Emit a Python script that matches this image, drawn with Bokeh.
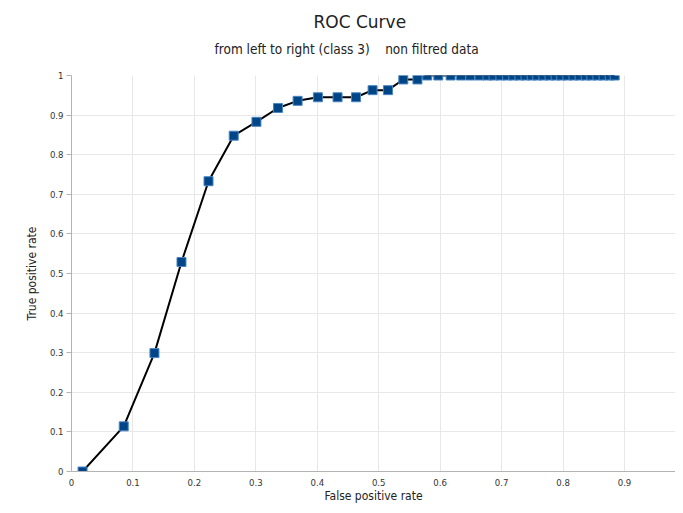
from bokeh.plotting import figure
from bokeh.models import Title, Range1d, FixedTicker
from bokeh.embed import file_html
from bokeh.resources import INLINE

title_text = "ROC Curve"
subtitle_text = "from left to right (class 3)\u00a0\u00a0\u00a0 non filtred data"
x_label = "False positive rate"
y_label = "True positive rate"

fpr = [0.018, 0.085, 0.135, 0.179, 0.223, 0.264, 0.301, 0.336, 0.368, 0.401,
       0.433, 0.463, 0.490, 0.515, 0.540, 0.563, 0.579, 0.597, 0.617, 0.634,
       0.649, 0.664, 0.677, 0.687, 0.698, 0.709, 0.719, 0.729, 0.739, 0.749,
       0.758, 0.768, 0.778, 0.788, 0.797, 0.807, 0.817, 0.827, 0.837, 0.846,
       0.856, 0.866, 0.876, 0.884]
tpr = [0.0, 0.114, 0.299, 0.529, 0.733, 0.848, 0.883, 0.918, 0.936, 0.945,
       0.945, 0.945, 0.963, 0.963, 0.990, 0.990, 1.0, 1.0, 1.0, 1.0,
       1.0, 1.0, 1.0, 1.0, 1.0, 1.0, 1.0, 1.0, 1.0, 1.0,
       1.0, 1.0, 1.0, 1.0, 1.0, 1.0, 1.0, 1.0, 1.0, 1.0,
       1.0, 1.0, 1.0, 1.0]
x_ticks = [0, 0.1, 0.2, 0.3, 0.4, 0.5, 0.6, 0.7, 0.8, 0.9, 1.0]
y_ticks = [0, 0.1, 0.2, 0.3, 0.4, 0.5, 0.6, 0.7, 0.8, 0.9, 1.0]
x_tick_labels = {0: "0", 0.1: "0.1", 0.2: "0.2", 0.3: "0.3", 0.4: "0.4", 0.5: "0.5",
                 0.6: "0.6", 0.7: "0.7", 0.8: "0.8", 0.9: "0.9", 1.0: "1"}
y_tick_labels = dict(x_tick_labels)

FONT = "DejaVu Sans Condensed"

p = figure(width=675, height=505, output_backend="svg", toolbar_location=None,
           x_range=Range1d(0, 0.983), y_range=Range1d(0, 1.0),
           min_border_left=71, min_border_top=75, min_border_right=0,
           min_border_bottom=0)
p.outline_line_color = None

p.xaxis.ticker = FixedTicker(ticks=x_ticks)
p.yaxis.ticker = FixedTicker(ticks=y_ticks)
p.xaxis.major_label_overrides = x_tick_labels
p.yaxis.major_label_overrides = y_tick_labels

for ax in (p.xaxis[0], p.yaxis[0]):
    ax.axis_line_color = "#b3b3b3"
    ax.major_tick_line_color = "#b3b3b3"
    ax.minor_tick_line_color = None
    ax.major_label_text_font = FONT
    ax.major_label_text_font_size = "9.5px"
    ax.major_label_text_color = "#333333"
    ax.axis_label_text_font = FONT
    ax.axis_label_text_font_size = "12px"
    ax.axis_label_text_font_style = "normal"
    ax.axis_label_text_color = "#222222"

p.xaxis.major_tick_out = 0
p.xaxis.major_tick_in = 0
p.xaxis.major_label_standoff = 7
p.xaxis.axis_label = x_label
p.xaxis.axis_label_standoff = 0

p.yaxis.major_tick_out = 5
p.yaxis.major_tick_in = 0
p.yaxis.major_label_standoff = 3
p.yaxis.axis_label = y_label
p.yaxis.axis_label_standoff = 8

p.xgrid.grid_line_color = "#e8e8e8"
p.ygrid.grid_line_color = "#e8e8e8"

p.line(fpr, tpr, line_color="black", line_width=2)
p.scatter(fpr, tpr, marker="square", size=9, fill_color="#004586",
          line_color="#4a86c5", line_width=1)

sub = Title(text=subtitle_text, align="left", offset=143, standoff=38,
            text_font=FONT, text_font_size="13.5px", text_font_style="normal",
            text_color="#222222")
ttl = Title(text=title_text, align="left", offset=242, standoff=-24,
            text_font="DejaVu Sans", text_font_size="17px", text_font_style="normal",
            text_color="#222222")
p.add_layout(sub, "above")
p.add_layout(ttl, "above")

open("out.html", "w").write(file_html(p, INLINE))
